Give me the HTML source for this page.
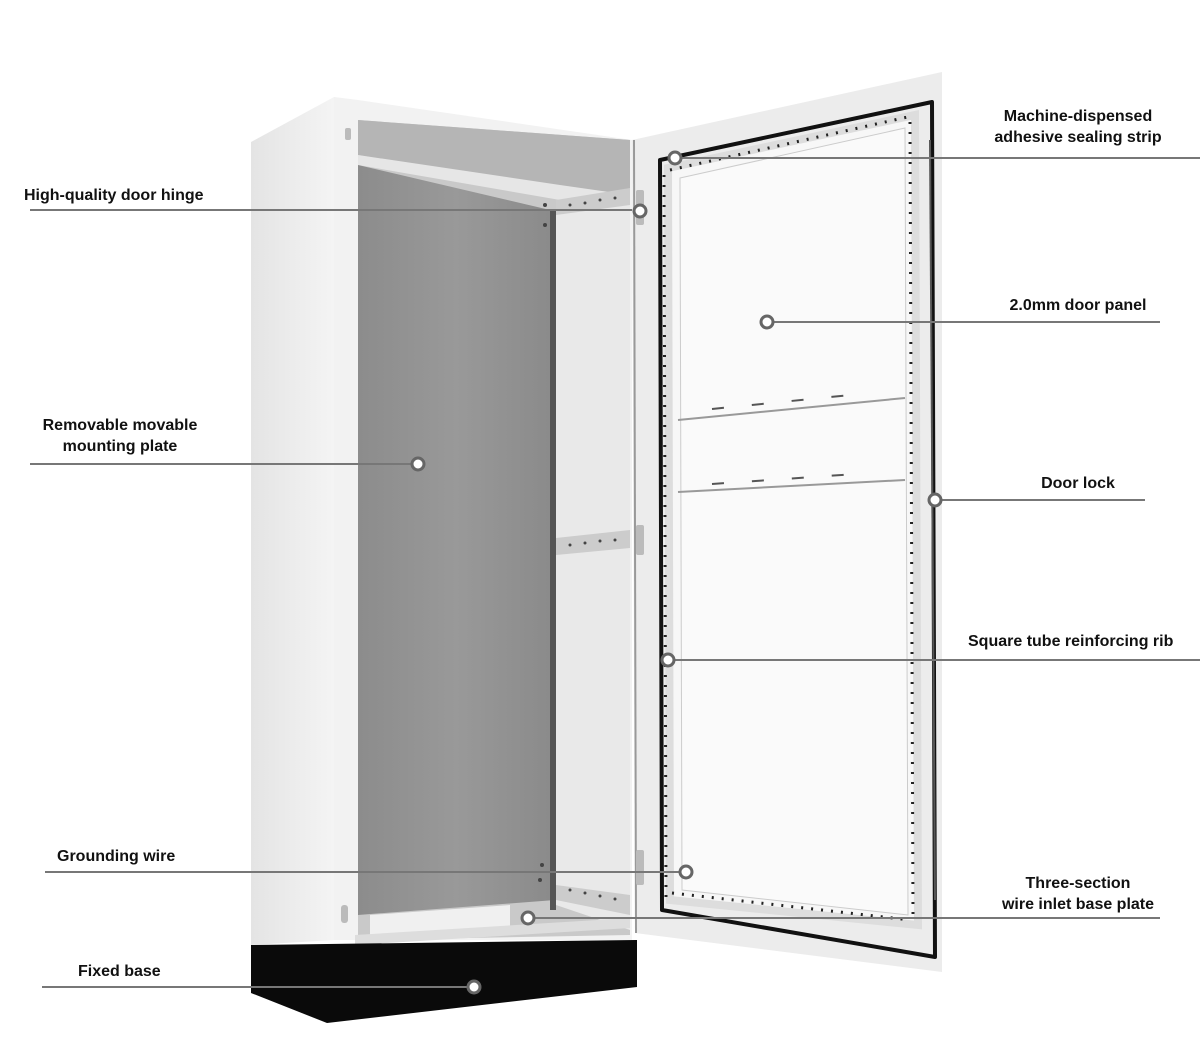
<!DOCTYPE html>
<html><head><meta charset="utf-8"><style>
html,body{margin:0;padding:0;background:#fff}
svg{display:block}
text{font-family:"Liberation Sans",sans-serif;font-weight:bold;font-size:16px;fill:#111}
</style></head><body>
<svg width="1200" height="1047" viewBox="0 0 1200 1047" xmlns="http://www.w3.org/2000/svg">
<defs>
<linearGradient id="side" x1="0" x2="1"><stop offset="0" stop-color="#e4e4e4"/><stop offset="1" stop-color="#f4f4f4"/></linearGradient>
<linearGradient id="plate" x1="0" x2="1"><stop offset="0" stop-color="#8c8c8c"/><stop offset="0.5" stop-color="#999"/><stop offset="1" stop-color="#8a8a8a"/></linearGradient>
</defs>
<!-- side panel -->
<polygon points="251,142 334,97 334,940 251,945" fill="url(#side)"/>
<!-- front frame -->
<polygon points="334,97 358,100 632,140 632,940 334,940" fill="#f2f2f2"/>
<!-- interior -->
<polygon points="358,120 630,140 630,935 358,940" fill="#c9c9c9"/>
<polygon points="358,120 630,140 630,200 358,155" fill="#b5b5b5"/>
<polygon points="358,155 560,185 630,195 630,205 560,200 358,165" fill="#e6e6e6"/>
<!-- mounting plate -->
<polygon points="358,165 550,210 555,212 555,900 358,915" fill="url(#plate)"/>
<rect x="550" y="210" width="6" height="700" fill="#555"/>
<!-- right interior wall -->
<polygon points="556,212 630,200 630,930 556,905" fill="#e9e9e9"/>
<!-- perforated rails -->
<polygon points="556,200 630,188 630,205 556,215" fill="#ccc"/>
<polygon points="556,538 630,530 630,548 556,555" fill="#ccc"/>
<polygon points="556,885 630,895 630,915 556,900" fill="#ccc"/>
<g fill="#444">
<circle cx="570" cy="205" r="1.5"/><circle cx="585" cy="203" r="1.5"/><circle cx="600" cy="200" r="1.5"/><circle cx="615" cy="198" r="1.5"/>
<circle cx="570" cy="545" r="1.5"/><circle cx="585" cy="543" r="1.5"/><circle cx="600" cy="541" r="1.5"/><circle cx="615" cy="540" r="1.5"/>
<circle cx="570" cy="890" r="1.5"/><circle cx="585" cy="893" r="1.5"/><circle cx="600" cy="896" r="1.5"/><circle cx="615" cy="899" r="1.5"/>
<circle cx="545" cy="205" r="2"/><circle cx="545" cy="225" r="2"/><circle cx="542" cy="865" r="2"/><circle cx="540" cy="880" r="2"/>
</g>
<!-- bottom base plate -->
<polygon points="370,915 510,905 510,935 370,940" fill="#f0f0f0"/>
<polygon points="355,935 630,918 630,928 355,945" fill="#ddd"/>
<!-- black base -->
<polygon points="251,945 637,940 637,987 327,1023 251,993" fill="#0a0a0a"/>
<!-- side hinges -->
<rect x="345" y="128" width="6" height="12" rx="2" fill="#bbb"/>
<rect x="341" y="905" width="7" height="18" rx="3" fill="#bbb"/>
<!-- door -->
<polygon points="632,140 942,72 942,972 635,933" fill="#ececec"/>
<line x1="634" y1="140" x2="636" y2="933" stroke="#999" stroke-width="2"/>
<!-- seal -->
<polygon points="660,160 932,102 935,957 662,910" fill="none" stroke="#111" stroke-width="4" stroke-linejoin="round"/>
<!-- inner panel -->
<polygon points="668,168 915,115 918,925 670,900" fill="#f7f7f7" stroke="#ddd" stroke-width="8"/>
<polygon points="680,178 905,128 908,915 682,890" fill="#fafafa" stroke="#ccc" stroke-width="1"/>
<g stroke="#222" stroke-width="3" stroke-dasharray="2 8">
<line x1="664" y1="175" x2="666" y2="900"/>
<line x1="910" y1="122" x2="913" y2="915"/>
<line x1="670" y1="170" x2="912" y2="116"/>
<line x1="672" y1="893" x2="910" y2="920"/>
</g>
<line x1="678" y1="420" x2="905" y2="398" stroke="#999" stroke-width="2"/>
<line x1="678" y1="492" x2="905" y2="480" stroke="#999" stroke-width="2"/>
<g stroke="#555" stroke-width="2" stroke-dasharray="12 28"><line x1="712" y1="409" x2="870" y2="393"/><line x1="712" y1="484" x2="870" y2="473"/></g>
<!-- door hinges & lock -->
<rect x="636" y="190" width="8" height="35" rx="2" fill="#bbb"/>
<rect x="636" y="525" width="8" height="30" rx="2" fill="#bbb"/>
<rect x="636" y="850" width="8" height="35" rx="2" fill="#bbb"/>
<line x1="930" y1="140" x2="935" y2="900" stroke="#555" stroke-width="2"/>
<!-- leader lines -->
<g stroke="#777" stroke-width="2">
<line x1="30" y1="210" x2="632" y2="210"/>
<line x1="675" y1="158" x2="1200" y2="158"/>
<line x1="767" y1="322" x2="1160" y2="322"/>
<line x1="30" y1="464" x2="418" y2="464"/>
<line x1="935" y1="500" x2="1145" y2="500"/>
<line x1="668" y1="660" x2="1200" y2="660"/>
<line x1="45" y1="872" x2="686" y2="872"/>
<line x1="528" y1="918" x2="1160" y2="918"/>
<line x1="42" y1="987" x2="474" y2="987"/>
</g>
<g fill="#fff" stroke="#666" stroke-width="3">
<circle cx="675" cy="158" r="6"/><circle cx="640" cy="211" r="6"/><circle cx="767" cy="322" r="6"/>
<circle cx="418" cy="464" r="6"/><circle cx="935" cy="500" r="6"/><circle cx="668" cy="660" r="6"/>
<circle cx="686" cy="872" r="6"/><circle cx="528" cy="918" r="6"/><circle cx="474" cy="987" r="6"/>
</g>
<!-- labels -->
<text x="24" y="200">High-quality door hinge</text>
<text x="1078" y="121" text-anchor="middle">Machine-dispensed</text>
<text x="1078" y="142" text-anchor="middle">adhesive sealing strip</text>
<text x="1078" y="310" text-anchor="middle">2.0mm door panel</text>
<text x="120" y="430" text-anchor="middle">Removable movable</text>
<text x="120" y="451" text-anchor="middle">mounting plate</text>
<text x="1078" y="488" text-anchor="middle">Door lock</text>
<text x="968" y="646">Square tube reinforcing rib</text>
<text x="57" y="861">Grounding wire</text>
<text x="1078" y="888" text-anchor="middle">Three-section</text>
<text x="1078" y="909" text-anchor="middle">wire inlet base plate</text>
<text x="78" y="976">Fixed base</text>
</svg>
</body></html>
